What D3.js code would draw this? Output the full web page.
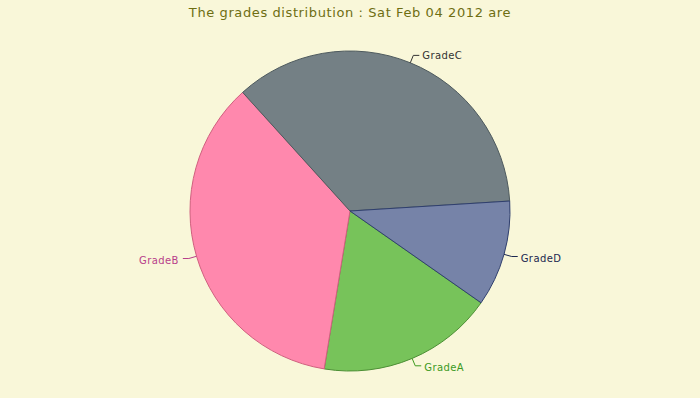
<!DOCTYPE html>
<html>
<head>
<meta charset="utf-8">
<script src="https://cdn.jsdelivr.net/npm/d3@7"></script>
<style>
  html, body { margin: 0; padding: 0; background: #f9f7d9; }
  svg { display: block; font-family: "DejaVu Sans", Verdana, sans-serif; }
</style>
</head>
<body>
<svg id="chart"></svg>
<script>
// Grade counts
const grades = ["GradeA", "GradeB", "GradeC", "GradeD"];
const counts = [5, 10, 10, 3];
const fills = ["#77c35a", "#ff88ad", "#748085", "#7683a8"];
const strokes = ["#4c8f35", "#d0607f", "#4e5a5e", "#2f3f6e"];
const labelColors = ["#3c9a1e", "#b8408a", "#333333", "#1c2850"];
const title = "The grades distribution : Sat Feb 04 2012 are";

const width = 700, height = 398;
const cx = 350, cy = 211, radius = 160;

const svg = d3.select("#chart")
  .attr("width", width)
  .attr("height", height);

svg.append("rect")
  .attr("width", width)
  .attr("height", height)
  .attr("fill", "#f9f7d9");

svg.append("text")
  .attr("x", width / 2)
  .attr("y", 17)
  .attr("text-anchor", "middle")
  .attr("font-size", 13)
  .attr("letter-spacing", 0.6)
  .attr("fill", "#6e6e12")
  .text(title);

const data = grades.map((g, i) => ({ grade: g, count: counts[i], i }));

// pie starts with GradeA at about 125 degrees, going clockwise
const start = 125 * Math.PI / 180;
const pie = d3.pie()
  .value(d => d.count)
  .sort(null)
  .startAngle(start)
  .endAngle(start + 2 * Math.PI);

const arc = d3.arc().innerRadius(0).outerRadius(radius);

const g = svg.append("g").attr("transform", `translate(${cx},${cy})`);
const arcs = pie(data);

g.selectAll("path.slice")
  .data(arcs)
  .join("path")
  .attr("class", "slice")
  .attr("d", arc)
  .attr("fill", d => fills[d.data.i])
  .attr("stroke", d => strokes[d.data.i])
  .attr("stroke-width", 1)
  .attr("stroke-linejoin", "round");

// leader lines + labels
arcs.forEach(d => {
  const mid = (d.startAngle + d.endAngle) / 2;
  const sx = Math.sin(mid), sy = -Math.cos(mid);
  const right = sx >= 0;
  const p1 = [sx * radius, sy * radius];
  const p2 = [sx * (radius + 8), sy * (radius + 8)];
  const p3 = [p2[0] + (right ? 6 : -6), p2[1]];
  const col = labelColors[d.data.i];

  g.append("polyline")
    .attr("points", [p1, p2, p3].map(p => p.join(",")).join(" "))
    .attr("fill", "none")
    .attr("stroke", col)
    .attr("stroke-width", 1);

  g.append("text")
    .attr("x", p3[0] + (right ? 3 : -4))
    .attr("y", p3[1] + (sy > 0 ? 2 : 0))
    .attr("dy", "0.35em")
    .attr("text-anchor", right ? "start" : "end")
    .attr("font-size", 10)
    .attr("letter-spacing", 0.4)
    .attr("fill", col)
    .text(d.data.grade);
});
</script>
</body>
</html>
